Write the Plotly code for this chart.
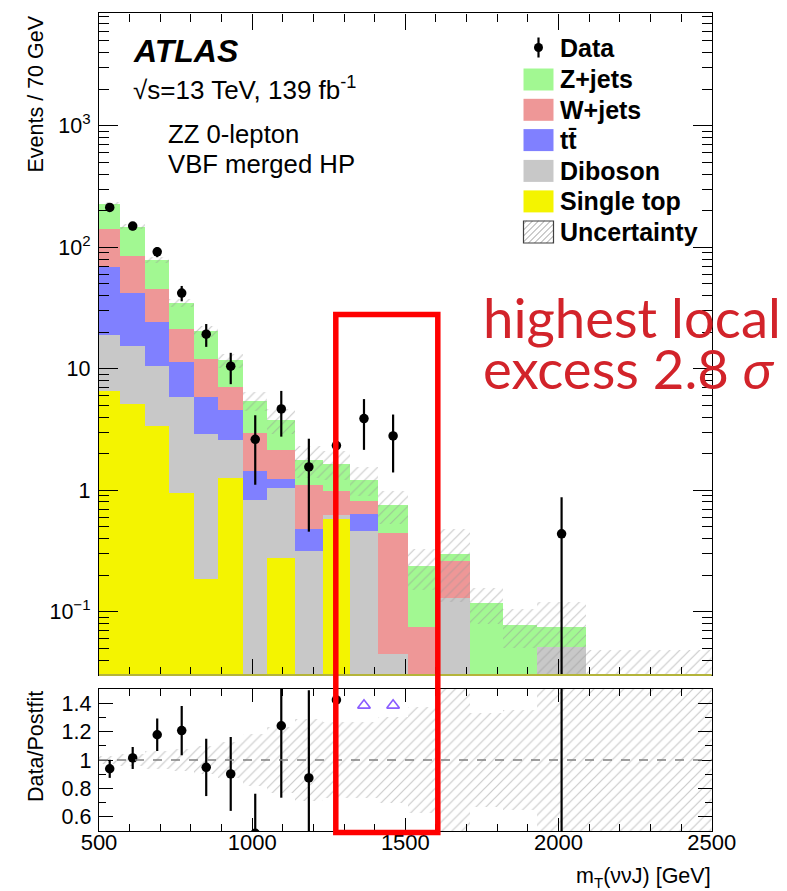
import numpy as np
import plotly.graph_objects as go

# ---------------------------------------------------------------- data
# variable-width bins in m_T(vvJ) [GeV]; yields shown as events / 70 GeV
bin_edges = [500, 570, 650, 730, 810, 890, 970, 1050, 1140, 1230, 1320,
             1410, 1510, 1610, 1710, 1820, 1930, 2090, 2500]

# post-fit background yields (events / 70 GeV), one entry per bin
single_top = [6.5, 5.1, 3.35, 0.94, 0.184, 1.25, 0, 0.274, 0, 0.573,
              0, 0, 0, 0, 0, 0, 0, 0]
diboson = [12.4, 10.1, 7.15, 4.93, 2.73, 1.33, 0.827, 0.756, 0.315, 0.047,
           0.462, 0.0446, 0, 0.13, 0, 0, 0.0513, 0]
ttbar = [50.1, 27.0, 13.5, 5.33, 2.96, 1.98, 0.613, 0.20, 0.159, 0,
         0.172, 0, 0, 0, 0, 0, 0, 0]
w_jets = [71, 42.4, 21.5, 10.1, 6.13, 2.44, 1.49, 0.91, 0.616, 0.36,
          0.183, 0.40, 0.0748, 0.132, 0, 0, 0, 0]
z_jets = [87, 62.9, 32.5, 13.5, 8.3, 4.64, 2.5, 1.62, 0.69, 0.66,
          0.393, 0.307, 0.162, 0.035, 0.118, 0.0773, 0.0227, 0.02]

# relative uncertainty on the total post-fit background
rel_unc = [0.03, 0.04, 0.06, 0.08, 0.10, 0.13, 0.18, 0.23, 0.29, 0.27,
           0.27, 0.30, 0.37, 0.60, 0.33, 0.35, 0.60, 1.40]

# observed event counts per bin
data_counts = [213, 171, 105, 48, 22, 12, 3, 6, 2, 3, 5, 4, 0, 0, 0, 0, 1, 0]

x_ticks = [500, 1000, 1500, 2000, 2500]
y_ticks = [0.1, 1, 10, 100, 1000]
y_tick_text = ["10<sup>\u22121</sup>", "1", "10", "10<sup>2</sup>", "10<sup>3</sup>"]
r_ticks = [0.6, 0.8, 1.0, 1.2, 1.4]
r_tick_text = ["0.6", "0.8", "1", "1.2", "1.4"]

# ---------------------------------------------------------------- derived
edges = np.array(bin_edges, float)
centers = 0.5 * (edges[:-1] + edges[1:])
widths = np.diff(edges)
per70 = 70.0 / widths

components = [
    ("Single top", single_top, "#f4f400"),
    ("Diboson", diboson, "#c8c8c8"),
    ("tt\u0304", ttbar, "#8080ff"),
    ("W+jets", w_jets, "#ee9797"),
    ("Z+jets", z_jets, "#a2f892"),
]
stack_tops = np.cumsum([np.array(c[1], float) for c in components], axis=0)
total = stack_tops[-1]
rel = np.array(rel_unc, float)

n = np.array(data_counts, float)
d_val = n * per70
d_err = np.sqrt(n) * per70
has_data = n > 0

ratio = np.where(total > 0, d_val / total, np.nan)
ratio_err = np.where(total > 0, d_err / total, np.nan)

Y_LOG = [np.log10(0.0301), np.log10(8450)]
R_RANGE = [0.5, 1.5]

W, H = 787, 891
def px(x):
    return x / W
def py(y):
    return 1 - y / H

FONT = "Liberation Sans, Arial, Helvetica, sans-serif"
HATCH = dict(shape="/", fgcolor="#969696", bgcolor="rgba(0,0,0,0)",
             size=7, solidity=0.17, fillmode="overlay")

fig = go.Figure()

# ---------------------------------------------------------------- main panel
# stacked histograms: each layer drawn at its cumulative height, top layer first
for (name, vals, color), top in reversed(list(zip(components, stack_tops))):
    fig.add_trace(go.Bar(
        x=centers, y=[v if v > 0 else None for v in top], width=widths,
        marker=dict(color=color, line=dict(width=0)),
        name=name, xaxis="x", yaxis="y", showlegend=False, hoverinfo="skip"))

# hatched uncertainty band on the total
unc_lo = total * np.clip(1 - rel, 0.02, None)
unc_hi = total * (1 + rel)
fig.add_trace(go.Bar(
    x=centers, y=unc_hi - unc_lo, base=unc_lo, width=widths,
    marker=dict(color="rgba(0,0,0,0)", line=dict(width=0), pattern=HATCH),
    name="Uncertainty", xaxis="x", yaxis="y", showlegend=False, hoverinfo="skip"))

# data error bars (no caps) and markers
ex, ey = [], []
for c, v, e, ok in zip(centers, d_val, d_err, has_data):
    if ok:
        ex += [c, c, None]
        ey += [max(v - e, 1e-4), v + e, None]
fig.add_trace(go.Scatter(x=ex, y=ey, mode="lines", line=dict(color="black", width=2.2),
                         xaxis="x", yaxis="y", showlegend=False, hoverinfo="skip"))
fig.add_trace(go.Scatter(x=centers[has_data], y=d_val[has_data], mode="markers",
                         marker=dict(color="black", size=9.5, line=dict(width=0)),
                         name="Data", xaxis="x", yaxis="y", showlegend=False))

# ---------------------------------------------------------------- ratio panel
fig.add_trace(go.Bar(
    x=centers, y=2 * rel, base=1 - rel, width=widths,
    marker=dict(color="rgba(0,0,0,0)", line=dict(width=0), pattern=HATCH),
    xaxis="x2", yaxis="y2", showlegend=False, hoverinfo="skip"))

above = has_data & (ratio - ratio_err > R_RANGE[1])
below = has_data & (ratio + ratio_err < R_RANGE[0])
drawn = has_data & ~above & ~below

rx, ry = [], []
for c, r, e, ok in zip(centers, ratio, ratio_err, drawn):
    if ok:
        rx += [c, c, None]
        ry += [r - e, r + e, None]
fig.add_trace(go.Scatter(x=rx, y=ry, mode="lines", line=dict(color="black", width=2.2),
                         xaxis="x2", yaxis="y2", showlegend=False, hoverinfo="skip"))
fig.add_trace(go.Scatter(x=centers[drawn], y=ratio[drawn], mode="markers",
                         marker=dict(color="black", size=9.5, line=dict(width=0)),
                         xaxis="x2", yaxis="y2", showlegend=False, cliponaxis=True))
# points beyond the upper edge are flagged with open triangles near the top
arrow_y = R_RANGE[1] - 0.115 * (R_RANGE[1] - R_RANGE[0])
fig.add_trace(go.Scatter(x=centers[above], y=[arrow_y] * int(above.sum()), mode="markers",
                         marker=dict(symbol="triangle-up-open", color="#8a5cff", size=11,
                                     line=dict(width=1.6, color="#8a5cff")),
                         xaxis="x2", yaxis="y2", showlegend=False))

# ---------------------------------------------------------------- axes
X_DOM = [px(99), px(711.7)]
tick_font = dict(family=FONT, size=21.5, color="black")
common = dict(showline=True, linecolor="black", linewidth=1.4, mirror="allticks",
              ticks="inside", tickcolor="black", tickwidth=1.2,
              showgrid=False, zeroline=False, automargin=False)

fig.update_layout(
    width=W, height=H, margin=dict(l=0, r=0, t=0, b=0, autoexpand=False),
    paper_bgcolor="white", plot_bgcolor="white",
    barmode="overlay", bargap=0, showlegend=False,
    xaxis=dict(domain=X_DOM, anchor="y", range=[500, 2500], tickvals=x_ticks,
               showticklabels=False, ticklen=16,
               minor=dict(tickvals=list(range(500, 2501, 100)), ticks="inside",
                          ticklen=8, tickcolor="black", tickwidth=1.2),
               **common),
    yaxis=dict(domain=[py(675), py(13.3)], anchor="x", type="log", range=Y_LOG,
               tickvals=y_ticks, ticktext=y_tick_text, ticklen=19, tickfont=tick_font,
               ticklabelstandoff=3,
               minor=dict(tickvals=[k * 10.0 ** d for d in range(-2, 4) for k in range(2, 10)],
                          ticks="inside", ticklen=10, tickcolor="black", tickwidth=1.2),
               **common),
    xaxis2=dict(domain=X_DOM, anchor="y2", range=[500, 2500], tickvals=x_ticks,
                ticklen=13, tickfont=dict(family=FONT, size=22, color="black"),
                ticklabelstandoff=-9,
                minor=dict(tickvals=list(range(500, 2501, 100)), ticks="inside",
                           ticklen=7, tickcolor="black", tickwidth=1.2),
                **common),
    yaxis2=dict(domain=[py(831), py(689)], anchor="x2", range=R_RANGE,
                tickvals=r_ticks, ticktext=r_tick_text, ticklen=14, tickfont=tick_font,
                ticklabelstandoff=2,
                minor=dict(tickvals=[round(0.5 + 0.1 * i, 1) for i in range(11)],
                           ticks="inside", ticklen=7, tickcolor="black", tickwidth=1.2),
                **common),
)

shapes = []
# unity line in the ratio panel
shapes.append(dict(type="line", xref="x2 domain", x0=0, x1=1, yref="y2", y0=1, y1=1,
                   line=dict(color="#808080", width=1.5, dash="dash"), layer="above"))
# lower edge of the main panel
shapes.append(dict(type="line", xref="x domain", x0=0, x1=1, yref="y domain", y0=0, y1=0,
                   line=dict(color="#b4b43a", width=2), layer="above"))

annotations = []
def label(x, y, text, size=21, anchor="left", color="black", family=FONT, **kw):
    annotations.append(dict(x=px(x), y=py(y), xref="paper", yref="paper", text=text,
                            showarrow=False, xanchor=anchor, yanchor="middle",
                            font=dict(family=family, size=size, color=color), **kw))

# ---------------------------------------------------------------- legend
LEG_X0, LEG_X1, LEG_TX = 523.5, 553.5, 557.5
LEG_SIZE = 25
rows = [("Z+jets", components[4][2], 79.5), ("W+jets", components[3][2], 109.8),
        ("tt\u0304", components[2][2], 140.1), ("Diboson", components[1][2], 170.9),
        ("Single top", components[0][2], 201.4)]
for text, color, yc in rows:
    shapes.append(dict(type="rect", xref="paper", yref="paper",
                       x0=px(LEG_X0), x1=px(LEG_X1), y0=py(yc + 11), y1=py(yc - 11),
                       fillcolor=color, line=dict(width=0), layer="above"))
    label(LEG_TX, yc, "<b>%s</b>" % text, size=LEG_SIZE)

# data entry: marker with vertical error line
shapes.append(dict(type="line", xref="paper", yref="paper", x0=px(538.5), x1=px(538.5),
                   y0=py(57.5), y1=py(37.5), line=dict(color="black", width=2.2), layer="above"))
shapes.append(dict(type="circle", xref="paper", yref="paper", x0=px(534), x1=px(543),
                   y0=py(52), y1=py(43), fillcolor="black", line=dict(width=0), layer="above"))
label(LEG_TX, 47.5, "<b>Data</b>", size=LEG_SIZE)

# uncertainty entry: hatched box with a thin frame
ux0, ux1, uy0, uy1 = LEG_X0, LEG_X1, 221, 243
path = ""
c = ux0 + uy0 + 3
while c < ux1 + uy1:
    xa, xb = max(ux0, c - uy1), min(ux1, c - uy0)
    if xb > xa:
        path += "M%.5f,%.5f L%.5f,%.5f " % (px(xa), py(c - xa), px(xb), py(c - xb))
    c += 6
shapes.append(dict(type="path", xref="paper", yref="paper", path=path,
                   line=dict(color="#9c9c9c", width=1), layer="above"))
shapes.append(dict(type="rect", xref="paper", yref="paper", x0=px(ux0), x1=px(ux1),
                   y0=py(uy1), y1=py(uy0), line=dict(color="#404040", width=1.2),
                   fillcolor="rgba(0,0,0,0)", layer="above"))
label(LEG_TX, 232, "<b>Uncertainty</b>", size=LEG_SIZE)

# ---------------------------------------------------------------- labels
label(131, 51, "<b><i>ATLAS</i></b>", size=32)
label(131, 89, "\u221as=13 TeV, 139 fb<sup>-1</sup>", size=26)
label(166, 134, "ZZ 0-lepton", size=25.7)
label(166, 164, "VBF merged HP", size=25.7)

label(35.5, 94, "Events / 70 GeV", size=21.5, anchor="center", textangle=-90)
label(35.5, 746.5, "Data/Postfit", size=21.5, anchor="center", textangle=-90)
annotations.append(dict(x=px(713), y=py(877), xref="paper", yref="paper",
                        text="m<sub>T</sub>(\u03bd\u03bdJ) [GeV]", showarrow=False,
                        xanchor="right", yanchor="middle",
                        font=dict(family=FONT, size=21.5, color="black")))

# highlighted region and its caption
shapes.append(dict(type="rect", xref="paper", yref="paper",
                   x0=px(335.8), x1=px(437.8), y0=py(832.5), y1=py(314.5),
                   line=dict(color="#ff0000", width=5.5), fillcolor="rgba(0,0,0,0)",
                   layer="above"))
CAP_FONT = "Lato, Open Sans, sans-serif"
label(481, 317, "highest local", size=54.5, color="#d2232a", family=CAP_FONT)
label(481, 368, "excess 2.8 <i>\u03c3</i>", size=54.5, color="#d2232a", family=CAP_FONT)

fig.update_layout(shapes=shapes, annotations=annotations)
fig.write_html("out.html")
